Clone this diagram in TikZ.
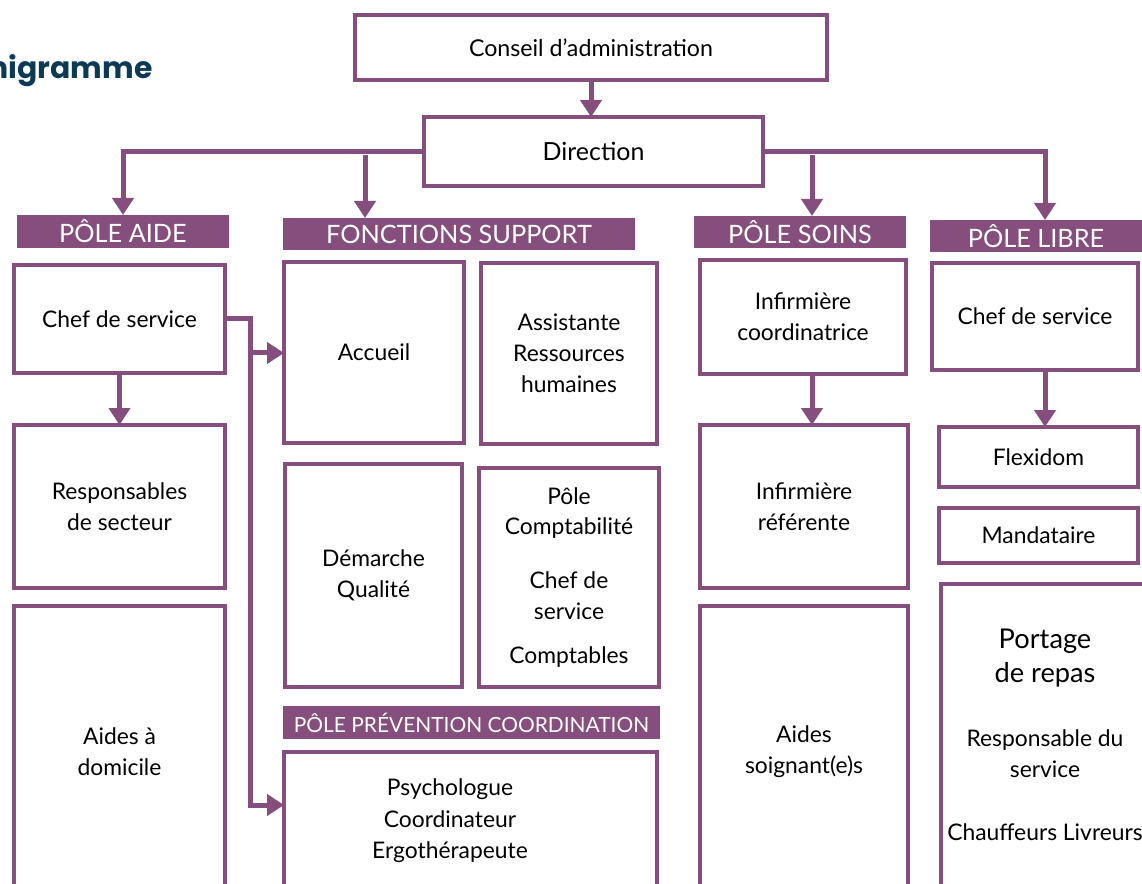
\documentclass[tikz,border=0pt]{standalone}
\usepackage{fontspec}
\setmainfont{Lato}
\newfontfamily\titlefont{Poppins}
\usetikzlibrary{arrows.meta}
\definecolor{prune}{RGB}{133,78,124}
\definecolor{marine}{RGB}{12,58,84}
\tikzset{box/.style = {shape=rectangle,draw=prune,line width=0.08cm,fill=white,align=center,inner sep=0pt,outer sep=0pt,font=\fontsize{13}{17.5}\selectfont}}
\tikzset{pole/.style = {shape=rectangle,fill=prune,text=white,inner sep=0pt,outer sep=0pt,font=\fontsize{14.4}{16}\selectfont}}
\tikzset{dims/.style 2 args = {minimum width=#1*0.02cm,minimum height=#2*0.02cm}}
\tikzset{txt/.style = {align=center,inner sep=0pt,font=\fontsize{13}{17.5}\selectfont}}
\tikzset{link/.style = {draw=prune,line width=0.1cm}}
\tikzset{linkarrow/.style = {link,-{Triangle[length=0.34cm,width=0.42cm]}}}

\begin{document}
\begin{tikzpicture}[x=0.02cm,y=-0.02cm]
          \useasboundingbox (0,0) rectangle (1142,884);
          \clip (0,0) rectangle (1142,884);

          \node[anchor=base east,inner sep=0pt,text=marine,font=\titlefont\bfseries\fontsize{17}{17}\selectfont] (titre) at (153,79) {Organigramme};

          \node[box,dims={472}{65},font=\fontsize{13.2}{16}\selectfont] (conseil) at (591,47.5) {Conseil d’administration};
          \node[box,dims={339}{69},font=\fontsize{14.2}{16}\selectfont] (direction) at (593.5,151.5) {Direction};

          \node[pole,dims={212}{33}] (haide) at (123,231.5) {PÔLE AIDE};
          \node[pole,dims={352}{32}] (hsupport) at (459,234) {FONCTIONS SUPPORT};
          \node[pole,dims={212}{32}] (hsoins) at (800,232) {PÔLE SOINS};
          \node[pole,dims={212}{32}] (hlibre) at (1036,236) {PÔLE LIBRE};
          \node[pole,dims={377}{33},font=\fontsize{11.9}{14}\selectfont] (hprev) at (471.5,722.5) {PÔLE PRÉVENTION COORDINATION};

          % pole aide
          \node[box,dims={211}{108}] (achef) at (119.5,319) {Chef de service};
          \node[box,dims={211}{163}] (aresp) at (119.5,506.5) {Responsables\\de secteur};
          \node[box,dims={211}{292}] (aaides) at (119.5,752) {Aides à\\domicile};

          % fonctions support
          \node[box,dims={180}{181}] (accueil) at (374,352.5) {Accueil};
          \node[box,dims={176}{181}] (rh) at (569,353.5) {Assistante\\Ressources\\humaines};
          \node[box,dims={177}{223}] (qualite) at (373.5,575.5) {Démarche\\Qualité};
          \node[box,dims={180}{219}] (compta) at (569,577.5) {Pôle\\Comptabilité\\[13pt]Chef de\\service\\[8pt]Comptables};
          \node[box,dims={373}{146}] (psycho) at (470.5,825) {};
          \node[txt,font=\fontsize{13}{18}\selectfont] (psychotxt) at (450,821) {Psychologue\\Coordinateur\\Ergothérapeute};

          % pole soins
          \node[box,dims={206}{114}] (scoord) at (803,317) {Infirmière\\coordinatrice};
          \node[box,dims={208}{163}] (sref) at (804,506.5) {Infirmière\\référente};
          \node[box,dims={208}{292}] (saides) at (804,752) {Aides\\soignant(e)s};

          % pole libre
          \node[box,dims={206}{107}] (lchef) at (1035,316.5) {Chef de service};
          \node[box,dims={199}{60}] (flexidom) at (1038.5,457) {Flexidom};
          \node[box,dims={199}{55}] (mandat) at (1038.5,535.5) {Mandataire};
          \node[box,dims={208}{314}] (portage) at (1045,741) {};
          \node[txt,font=\fontsize{15.5}{19}\selectfont] (portagetxt) at (1045,658) {Portage\\de repas};
          \node[txt] (respotxt) at (1045,754) {Responsable du\\service};
          \node[txt] (livreurtxt) at (1045,832) {Chauffeurs Livreurs};

          \coordinate (jsupport) at (365,155);
          \coordinate (jsoins) at (812,155);
          \coordinate (relais) at (250,353);
          \coordinate (pied) at (250,805);

          \draw[linkarrow] (conseil.south) -- (conseil.south |- direction.north);
          \draw[linkarrow] (direction.west) -| (haide);
          \draw[linkarrow] (jsupport) -- (jsupport |- hsupport.north);
          \draw[linkarrow] (direction.east) -| (1045,0 |- hlibre.north);
          \draw[linkarrow] (jsoins) -- (jsoins |- hsoins.north);

          \draw[linkarrow] (achef) -- (aresp);
          \draw[linkarrow] (812,0 |- scoord.south) -- (812,0 |- sref.north);
          \draw[linkarrow] (1045,0 |- lchef.south) -- (1045,0 |- flexidom.north);

          \draw[linkarrow] (achef.east) -| (pied) -- (psycho.west |- pied);
          \draw[linkarrow] (relais) -- (accueil.west |- relais);
        \end{tikzpicture}
\end{document}
